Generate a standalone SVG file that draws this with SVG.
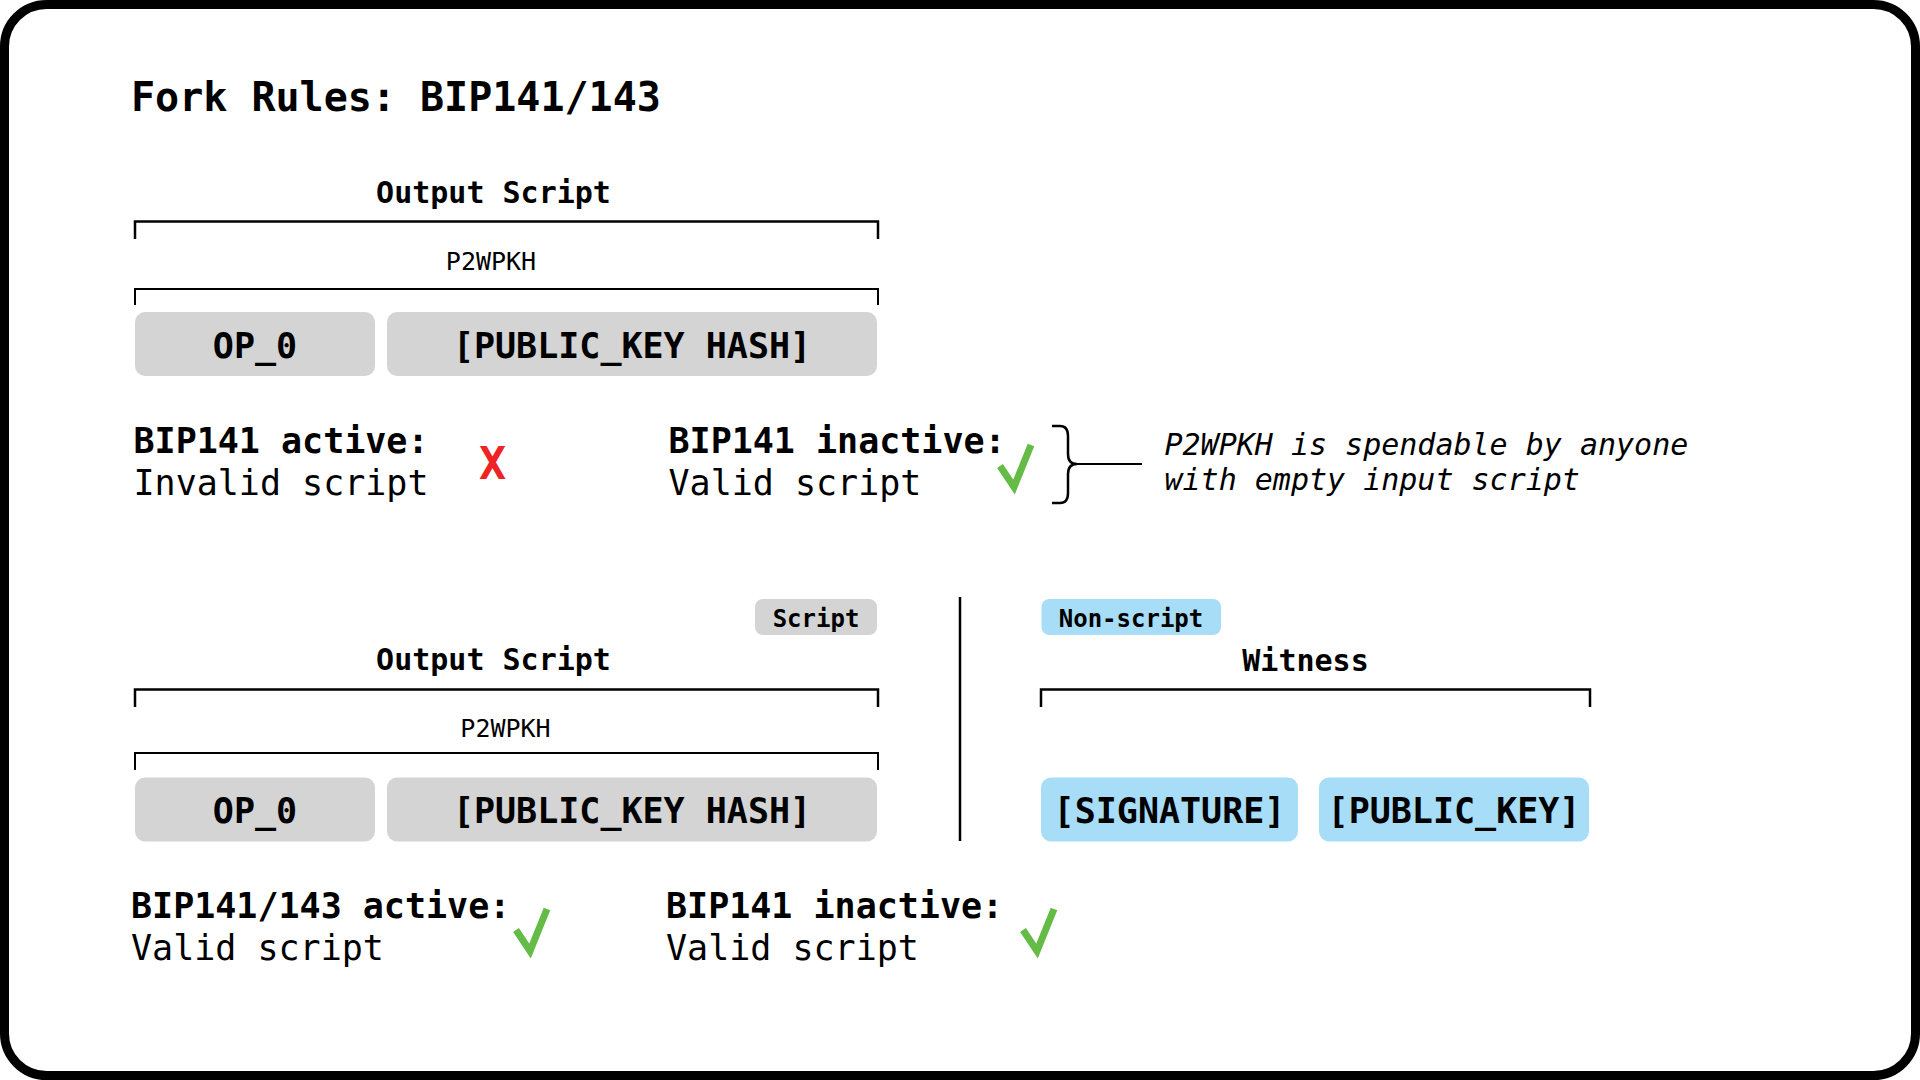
<svg xmlns="http://www.w3.org/2000/svg" width="1920" height="1080" viewBox="0 0 1920 1080">
<style>
text{font-family:"DejaVu Sans Mono","Liberation Mono",monospace;fill:#000}
.b{font-weight:bold}
.c{text-anchor:middle}
.title{font-size:40px;font-weight:bold}
.hdr{font-size:30px;font-weight:bold;text-anchor:middle}
.sub{font-size:25px;text-anchor:middle}
.box{font-size:35px;font-weight:bold;text-anchor:middle}
.st{font-size:35px}
.tag{font-size:24px;font-weight:bold;text-anchor:middle}
.note{font-size:30px;font-style:italic}
.gray{fill:#d4d4d4}
.blue{fill:#a7ddf7}
.br{fill:none;stroke:#000;stroke-width:2.5}
.br2{fill:none;stroke:#000;stroke-width:2}
.chk{fill:none;stroke:#64bc46;stroke-width:7;stroke-linejoin:miter;stroke-linecap:butt}
</style>
<rect x="0" y="0" width="1920" height="1080" fill="#fff"/>
<rect x="4.5" y="4.5" width="1911" height="1071" rx="42" fill="#fff" stroke="#000" stroke-width="9"/>
<text class="title" x="131" y="111">Fork Rules: BIP141/143</text>

<g id="top-output-script">
<text class="hdr" x="493.5" y="202.5">Output Script</text>
<path class="br" d="M135,239 V221.5 H878 V239"/>
<text class="sub" x="491" y="270">P2WPKH</text>
<path class="br2" d="M135,305 V289 H878 V305"/>
</g>
<g id="top-op0">
<rect class="gray" x="135" y="312" width="240" height="64" rx="10"/>
<text class="box" x="255" y="357.5">OP_0</text>
</g>
<g id="top-pkh">
<rect class="gray" x="387" y="312" width="490" height="64" rx="10"/>
<text class="box" x="632" y="357.5">[PUBLIC_KEY HASH]</text>
</g>

<g id="top-active">
<text class="st b" x="133.5" y="453">BIP141 active:</text>
<text class="st" x="133.5" y="494.5">Invalid script</text>
<text x="492.5" y="479" font-size="45" font-weight="bold" text-anchor="middle" style="fill:#ee2424">X</text>
</g>
<g id="top-inactive">
<text class="st b" x="668.5" y="453">BIP141 inactive:</text>
<text class="st" x="668.5" y="494.5">Valid script</text>
<polyline class="chk" points="1000,466 1014,487 1031,445"/>
</g>
<g id="note">
<text class="note" x="1164.5" y="455">P2WPKH is spendable by anyone</text>
<text class="note" x="1164.5" y="490">with empty input script</text>
</g>
<g id="connectors">
<path class="br" d="M1052,426 H1060 Q1068,426 1068,436 V454 Q1068,464 1077,464 Q1068,464 1068,474 V493 Q1068,503 1060,503 H1052"/>
<line class="br2" x1="1077" y1="464" x2="1142" y2="464"/>
</g>

<g id="tag-script">
<rect class="gray" x="755" y="599" width="122" height="36" rx="8"/>
<text class="tag" x="816" y="626.5">Script</text>
</g>
<line x1="960" y1="597" x2="960" y2="841" stroke="#000" stroke-width="2.5"/>
<g id="tag-nonscript">
<rect class="blue" x="1041.5" y="599" width="179.5" height="36" rx="8"/>
<text class="tag" x="1131" y="626.5">Non-script</text>
</g>

<g id="bottom-output-script">
<text class="hdr" x="493.5" y="669.5">Output Script</text>
<path class="br" d="M135,707 V689.5 H878 V707"/>
<text class="sub" x="505.5" y="737">P2WPKH</text>
<path class="br2" d="M135,770 V753 H878 V770"/>
</g>
<g id="bottom-op0">
<rect class="gray" x="135" y="777.5" width="240" height="64" rx="10"/>
<text class="box" x="255" y="823">OP_0</text>
</g>
<g id="bottom-pkh">
<rect class="gray" x="387" y="777.5" width="490" height="64" rx="10"/>
<text class="box" x="632" y="823">[PUBLIC_KEY HASH]</text>
</g>

<g id="witness">
<text class="hdr" x="1305.5" y="670.5">Witness</text>
<path class="br" d="M1041,707 V689.5 H1590 V707"/>
</g>
<g id="signature">
<rect class="blue" x="1041" y="777.5" width="257" height="64" rx="10"/>
<text class="box" x="1169.5" y="823">[SIGNATURE]</text>
</g>
<g id="public-key">
<rect class="blue" x="1319" y="777.5" width="270" height="64" rx="10"/>
<text class="box" x="1454" y="823">[PUBLIC_KEY]</text>
</g>

<g id="bottom-active">
<text class="st b" x="131" y="918">BIP141/143 active:</text>
<text class="st" x="131" y="960">Valid script</text>
<polyline class="chk" points="516,930 530,951 547,909"/>
</g>
<g id="bottom-inactive">
<text class="st b" x="666" y="918">BIP141 inactive:</text>
<text class="st" x="666" y="960">Valid script</text>
<polyline class="chk" points="1023,930 1037,951 1054,909"/>
</g>
</svg>
